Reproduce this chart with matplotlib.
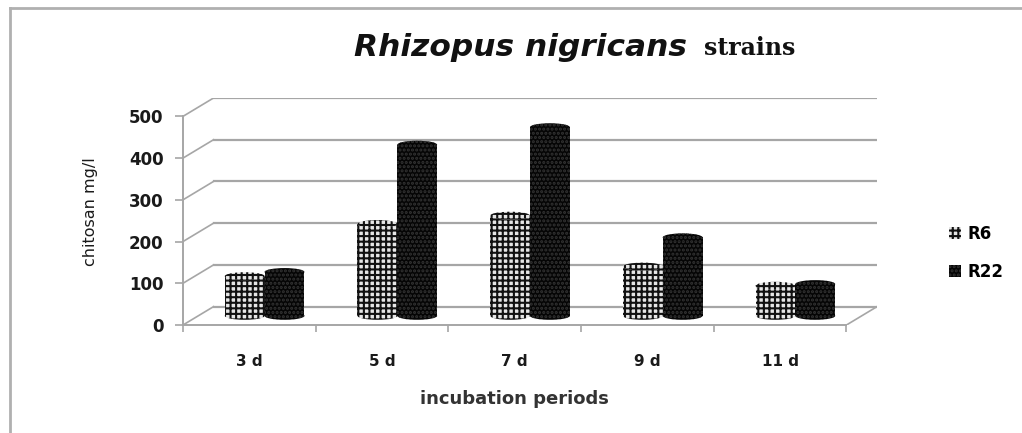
"""Pseudo-3D cylinder bar chart of chitosan yield per incubation period."""

import matplotlib
matplotlib.use("Agg")
import matplotlib.pyplot as plt
from matplotlib.patches import Rectangle, Ellipse, Patch
from matplotlib.lines import Line2D

# data
periods = ["3 d", "5 d", "7 d", "9 d", "11 d"]
r6 = [95, 220, 240, 118, 72]
r22 = [105, 410, 452, 188, 76]
series_names = ["R6", "R22"]
yticks = [0, 100, 200, 300, 400, 500]

# depth of the fake 3D box (x in categories, y in data units)
DX = 0.23
DY = 44
BAR_W = 0.30
CAP_H = 19
GRID_COL = "#a6a6a6"

STYLES = {
    "R6": dict(facecolor="#e6e6e6", edgecolor="#111111", hatch="+++"),
    "R22": dict(facecolor="#050505", edgecolor="#333333", hatch="...."),
}

plt.rcParams["hatch.linewidth"] = 1.5


def draw_cylinder(ax, xc, value, style, z):
    """Body + bottom and top caps, placed half way into the box depth."""
    x0 = xc + DX / 2
    y0 = DY / 2
    kw = dict(linewidth=0, **style)
    ax.add_patch(Ellipse((x0, y0), BAR_W, CAP_H, zorder=z, **kw))
    ax.add_patch(Rectangle((x0 - BAR_W / 2, y0), BAR_W, value, zorder=z + 0.1, **kw))
    ax.add_patch(Ellipse((x0, y0 + value), BAR_W, CAP_H, zorder=z + 0.2, **kw))


fig = plt.figure(figsize=(10.22, 4.33), dpi=100)
ax = fig.add_axes([183 / 1022, 108 / 433, 694 / 1022, 227 / 433])
n = len(periods)
ax.set_xlim(-0.5, n - 0.5 + DX)
ax.set_ylim(0, yticks[-1] + DY)

# back wall gridlines and left wall diagonals
for v in yticks:
    ax.plot([-0.5 + DX, n - 0.5 + DX], [v + DY, v + DY], color=GRID_COL, lw=1.6, zorder=1)
    ax.plot([-0.5, -0.5 + DX], [v, v + DY], color=GRID_COL, lw=1.2, zorder=1)
ax.plot([n - 0.5, n - 0.5 + DX], [0, DY], color=GRID_COL, lw=1.2, zorder=1)

for i in range(n):
    draw_cylinder(ax, i - BAR_W / 2, r6[i], STYLES["R6"], 3)
    draw_cylinder(ax, i + BAR_W / 2, r22[i], STYLES["R22"], 4)

# axes lines
for side in ["top", "right"]:
    ax.spines[side].set_visible(False)
ax.spines["left"].set_bounds(0, yticks[-1])
ax.spines["bottom"].set_bounds(-0.5, n - 0.5)
for side in ["left", "bottom"]:
    ax.spines[side].set_color(GRID_COL)
    ax.spines[side].set_linewidth(1.4)

ax.set_yticks(yticks)
ax.set_yticklabels([str(v) for v in yticks], fontweight="bold", fontsize=12,
                   color="#1a1a1a")
ax.tick_params(axis="y", length=6, width=1.2, color=GRID_COL, pad=8)

ax.set_xticks([i - 0.5 for i in range(n + 1)])
ax.set_xticklabels([])
ax.set_xticks(range(n), minor=True)
ax.set_xticklabels(periods, minor=True, fontweight="bold", fontsize=11, color="#1a1a1a")
ax.tick_params(axis="x", which="major", length=5, width=1.2, color=GRID_COL)
ax.tick_params(axis="x", which="minor", length=0, pad=21)

ax.set_ylabel("chitosan mg/l", fontsize=11.5, color="#1a1a1a", labelpad=22)
ax.set_xlabel("incubation periods", fontsize=13, fontweight="bold", color="#333333")
# centred under the front floor edge, not the whole box
ax.xaxis.set_label_coords((n / 2) / (n + DX), -0.285)

# title: italic species name + bold serif "strains"
fig.text(520 / 1022, 1 - 47 / 433, "Rhizopus nigricans", ha="center", va="center",
         fontsize=22.5, style="italic", fontweight="bold", family="DejaVu Sans",
         color="#111111")
fig.text(704 / 1022, 1 - 48 / 433, "strains", ha="left", va="center",
         fontsize=17, fontweight="bold", family="DejaVu Serif", color="#111111")

handles = [Patch(linewidth=0, **STYLES[s]) for s in series_names]
fig.legend(handles, series_names, loc="center left",
           bbox_to_anchor=(934 / 1022, 1 - 253 / 433), frameon=False,
           handlelength=0.7, handleheight=0.7, handletextpad=0.4, labelspacing=1.2,
           prop=dict(weight="bold", size=12))

# outer frame of the chart area
fig.add_artist(Line2D([9.5 / 1022, 9.5 / 1022], [0, 1 - 7.5 / 433],
                      color="#b0b0b0", lw=2, transform=fig.transFigure))
fig.add_artist(Line2D([9.5 / 1022, 1], [1 - 7.5 / 433, 1 - 7.5 / 433],
                      color="#b0b0b0", lw=2, transform=fig.transFigure))

fig.savefig("out.png", dpi=100, facecolor="white")
plt.close(fig)
